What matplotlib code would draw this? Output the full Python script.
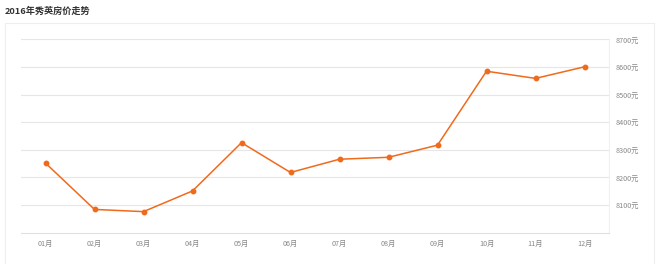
import matplotlib.pyplot as plt
from matplotlib.patches import Rectangle

plt.rcParams['font.family'] = ['Noto Sans CJK SC', 'DejaVu Sans']

months = ['01月', '02月', '03月', '04月', '05月', '06月',
          '07月', '08月', '09月', '10月', '11月', '12月']
prices = [8252, 8084, 8076, 8151, 8326, 8218,
          8266, 8273, 8317, 8585, 8559, 8601]
y_ticks = [8100, 8200, 8300, 8400, 8500, 8600, 8700]

fig = plt.figure(figsize=(6.6, 2.64), dpi=100)
W, H = 660, 264

# outer panel border
fig.patches.append(Rectangle((5 / W, -0.05), 649 / W, 1 - 23 / H + 0.05,
                             transform=fig.transFigure, fill=False,
                             edgecolor='#eeeeee', linewidth=0.8))

fig.text(5 / W, 1 - 11.5 / H, '2016年秀英房价走势', fontsize=6.6,
         fontweight='bold', color='#333333', va='center', ha='left')

ax = fig.add_axes([21 / W, 1 - 232.6 / H, 588 / W, (232.6 - 39.5) / H])
x = range(len(months))
ax.plot(x, prices, color='#f06a1c', linewidth=1.1, marker='o',
        markersize=3.2, zorder=3)

ax.set_xlim(-0.5, len(months) - 0.5)
ax.set_ylim(8000, 8700)
ax.set_xticks(list(x))
ax.set_xticklabels(months)
ax.set_yticks(y_ticks)
ax.set_yticklabels([f'{v}元' for v in y_ticks])
ax.yaxis.tick_right()
ax.tick_params(axis='both', length=0, labelsize=5.2, colors='#888888')
ax.tick_params(axis='x', pad=5)
ax.tick_params(axis='y', pad=5)

ax.grid(axis='y', color='#e6e6e6', linewidth=0.8)
ax.set_axisbelow(True)
for side in ['top', 'left']:
    ax.spines[side].set_visible(False)
ax.spines['right'].set_color('#f0f0f0')
ax.spines['bottom'].set_color('#e0e0e0')
ax.spines['right'].set_linewidth(0.8)
ax.spines['bottom'].set_linewidth(0.8)

fig.savefig('out.png', dpi=100)
